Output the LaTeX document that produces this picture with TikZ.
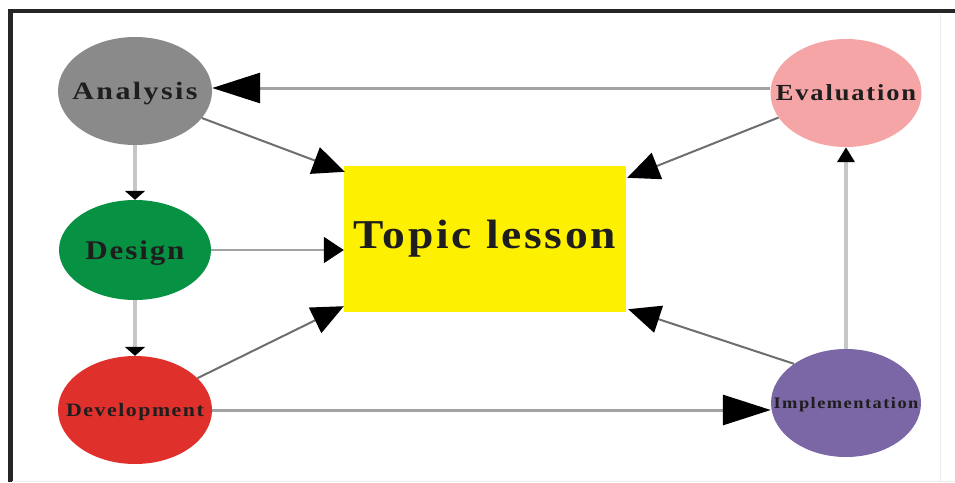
\documentclass[tikz,border=0pt]{standalone}
\usepackage{fontspec}
\setmainfont{Liberation Serif}
\usetikzlibrary{shapes.geometric,arrows.meta,calc}
\definecolor{cana}{HTML}{8A8A8A}
\definecolor{cdes}{HTML}{079143}
\definecolor{cdev}{HTML}{E0302B}
\definecolor{ceva}{HTML}{F5A5A5}
\definecolor{cimp}{HTML}{7B66A6}
\definecolor{ctop}{HTML}{FDF000}
\definecolor{ctxt}{HTML}{1E1E1E}
\definecolor{lnlight}{HTML}{C6C6C6}
\definecolor{lnmid}{HTML}{A2A2A2}
\definecolor{lndark}{HTML}{6E6E6E}
\tikzset{
  phase/.style={ellipse, inner sep=0pt, draw=none, text=ctxt},
  bigtip/.style={-{Triangle[length=48pt,width=30pt,color=black]}},
  midtip/.style={-{Triangle[length=32pt,width=28pt,color=black]}},
  smalltip/.style={-{Triangle[length=20pt,width=26pt,color=black]}},
  flattip/.style={-{Triangle[length=9pt,width=20pt,color=black]}},
  uptip/.style={-{Triangle[length=15pt,width=17pt,color=black]}},
}
% #1 size, #2 letter space, #3 horizontal scale, #4 text
\newcommand{\zlbl}[4]{{\fontsize{#1}{#1}\selectfont\addfontfeature{LetterSpace=#2}\bfseries\raisebox{-0.34em}[0pt][0pt]{\makebox[0pt]{\scalebox{#3}[1]{#4}}}}}
\begin{document}
\begin{tikzpicture}[x=1pt,y=-1pt]
\useasboundingbox (0,0) rectangle (955,482);
\fill[white] (0,0) rectangle (955,482);
% frame
\draw[line width=4pt, color=black!85] (8,11) -- (955,11);
\draw[line width=5pt, color=black!85] (10,9) -- (10,482);
\draw[line width=1pt, color=black!7] (940,14) -- (940,482);
\draw[line width=1pt, color=black!7] (12,481) -- (955,481);

% nodes
\node[phase, fill=cana, minimum width=154pt, minimum height=108pt] (an) at (135,91) {\zlbl{25}{8}{1.2}{Analysis}};
\node[phase, fill=cdes, minimum width=152pt, minimum height=100pt] (de) at (135,250) {\zlbl{27}{6}{1.15}{Design}};
\node[phase, fill=cdev, minimum width=154pt, minimum height=108pt] (dv) at (135,410) {\zlbl{19}{7}{1.15}{Development}};
\node[phase, fill=ceva, minimum width=151pt, minimum height=108pt] (ev) at (846,93) {\zlbl{23}{7}{1.15}{Evaluation}};
\node[phase, fill=cimp, minimum width=150pt, minimum height=108pt] (im) at (846,403) {\zlbl{16}{8}{1.15}{Implementation}};
\node[rectangle, fill=ctop, minimum width=282pt, minimum height=146pt, inner sep=0pt] (tp) at (485,239) {};
\node[text=ctxt, inner sep=0pt] (tpl) at (485,235) {\zlbl{41}{6}{1.11}{Topic lesson}};

% connectors
\coordinate (evw) at ($(ev.west)+(0,-5)$);
\draw[line width=3pt, color=lnmid, bigtip] (evw) -- (evw -| an.east);
\draw[line width=3pt, color=lnmid, bigtip] (dv.east) -- (dv.east -| im.west);
\draw[line width=2pt, color=lndark, midtip] (an.-22) -- ($(tp.north west)+(1,6)$);
\draw[line width=2pt, color=lndark, midtip] (ev.200) -- ($(tp.north east)+(1,12)$);
\draw[line width=2pt, color=lndark, midtip] (dv.27) -- ($(tp.south west)+(0,-6)$);
\draw[line width=2pt, color=lndark, midtip] (im.143) -- ($(tp.south east)+(2,-3)$);
\draw[line width=2pt, color=lnmid, smalltip] (de.east) -- (de.east -| tp.west);
\draw[line width=4pt, color=lnlight, flattip] (an.south) -- (de.north);
\draw[line width=4pt, color=lnlight, flattip] (de.south) -- (dv.north);
\draw[line width=4pt, color=lnlight, uptip] (im.north) -- (ev.south);
\end{tikzpicture}
\end{document}
